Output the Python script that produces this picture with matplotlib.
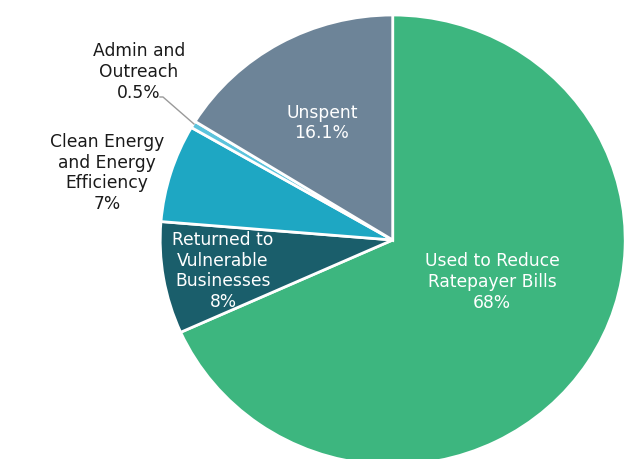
import numpy as np
import matplotlib.pyplot as plt

labels = ["Used to Reduce\nRatepayer Bills", "Returned to\nVulnerable\nBusinesses",
          "Clean Energy\nand Energy\nEfficiency", "Admin and\nOutreach", "Unspent"]
pct_text = ["68%", "8%", "7%", "0.5%", "16.1%"]
values = [68, 8, 7, 0.5, 16.1]
colors = ["#3db67f", "#1a5e6b", "#1ea7c3", "#5cc3dc", "#6d8498"]

W, H = 634, 459
cx, cy, rx, ry = 392.7, 240, 232.5, 225


def px(x, y):
    # pixel position (from top-left) -> data coords
    return (x - cx) / rx, (cy - y) / ry


fig = plt.figure(figsize=(W / 100, H / 100), dpi=100)
ax = fig.add_axes([0, 0, 1, 1])
ax.pie(values, colors=colors, startangle=90, counterclock=False,
       wedgeprops=dict(edgecolor="white", linewidth=2))
ax.set_aspect("auto")
ax.set_xlim(px(0, 0)[0], px(W, 0)[0])
ax.set_ylim(px(0, H)[1], px(0, 0)[1])
ax.axis("off")

font = "DejaVu Sans"
fs = 12.3
# label positions (pixels) and text colors
spots = [(492, 282), (223, 271), (107, 173), (139, 72), (322, 123)]
tcolors = ["white", "white", "#1a1a1a", "#1a1a1a", "white"]
for lab, p, (x, y), c in zip(labels, pct_text, spots, tcolors):
    ax.text(*px(x, y), lab + "\n" + p, ha="center", va="center", color=c,
            fontsize=fs, family=font, linespacing=1.2)

# leader line for the small slice
lx, ly = zip(px(160, 97), px(163, 97), px(194, 124))
ax.plot(lx, ly, color="#9a9a9a", lw=1)

fig.savefig("out.png", dpi=100)
